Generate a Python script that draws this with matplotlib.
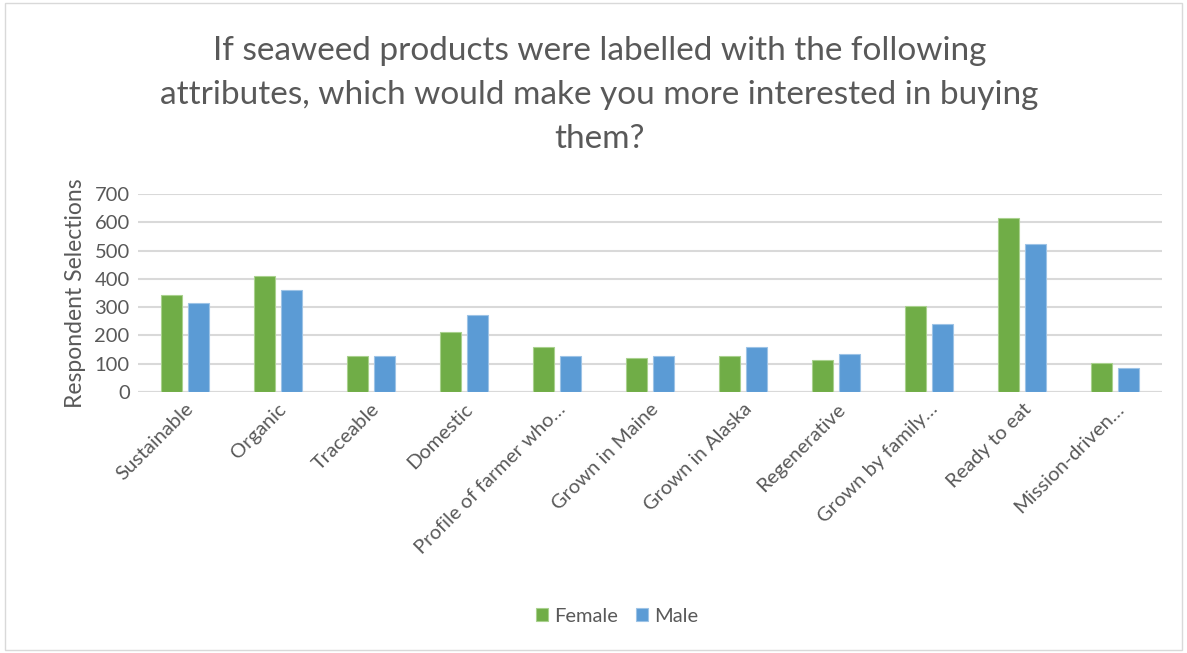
import matplotlib
matplotlib.use("Agg")
import matplotlib.pyplot as plt
import numpy as np
from matplotlib.patches import Rectangle

categories = ["Sustainable", "Organic", "Traceable", "Domestic", "Profile of farmer who…",
              "Grown in Maine", "Grown in Alaska", "Regenerative", "Grown by family…",
              "Ready to eat", "Mission-driven…"]
female = [344, 409, 126, 211, 159, 120, 127, 113, 305, 615, 102]
male = [314, 361, 126, 273, 129, 129, 159, 135, 241, 522, 86]
yticks = [0, 100, 200, 300, 400, 500, 600, 700]

TEXT = "#595959"
GREEN = "#70AD47"
BLUE = "#5B9BD5"

plt.rcParams["font.family"] = ["Lato", "DejaVu Sans"]

fig = plt.figure(figsize=(11.87, 6.53), dpi=100)
ax = fig.add_axes([138 / 1187, 1 - 392 / 653, (1162 - 138) / 1187, (392 - 194) / 653])

x = np.arange(len(categories))
w = 0.225
off = 0.145
ax.bar(x - off, female, w, color=GREEN, edgecolor="#a9d18e", linewidth=0.8, label="Female", zorder=3)
ax.bar(x + off, male, w, color=BLUE, edgecolor="#9dc3e6", linewidth=0.8, label="Male", zorder=3)

ax.set_xlim(-0.5, len(categories) - 0.5)
ax.set_ylim(0, 700)
ax.set_yticks(yticks)
ax.set_yticklabels([str(t) for t in yticks], fontsize=14.5, color=TEXT)
ax.yaxis.grid(True, color="#d9d9d9", linewidth=1.5, zorder=0)
ax.set_axisbelow(True)
for s in ax.spines.values():
    s.set_visible(False)
ax.tick_params(axis="both", length=0, pad=6)
ax.set_xticks(x)
ax.set_xticklabels(categories, rotation=45, ha="right", rotation_mode="anchor",
                   fontsize=14.5, color=TEXT)
ax.axhline(0, color="#d9d9d9", linewidth=1.5, zorder=1)

ax.set_ylabel("Respondent Selections", fontsize=16.5, color=TEXT, labelpad=6)

fig.text(0.505, 1 - 95 / 653,
         "If seaweed products were labelled with the following\n"
         "attributes, which would make you more interested in buying\n"
         "them?", ha="center", va="center", fontsize=24, color=TEXT,
         linespacing=1.6)

leg = fig.legend(loc="center", bbox_to_anchor=(0.52, 1 - 616 / 653), ncol=2,
                 frameon=False, fontsize=14.5, handlelength=0.6, handleheight=0.6,
                 handletextpad=0.3, columnspacing=0.9)
for t in leg.get_texts():
    t.set_color(TEXT)

fig.patches.append(Rectangle((0.004, 0.004), 0.992, 0.992, transform=fig.transFigure,
                             fill=False, edgecolor="#d9d9d9", linewidth=1))

fig.savefig("out.png", dpi=100)
